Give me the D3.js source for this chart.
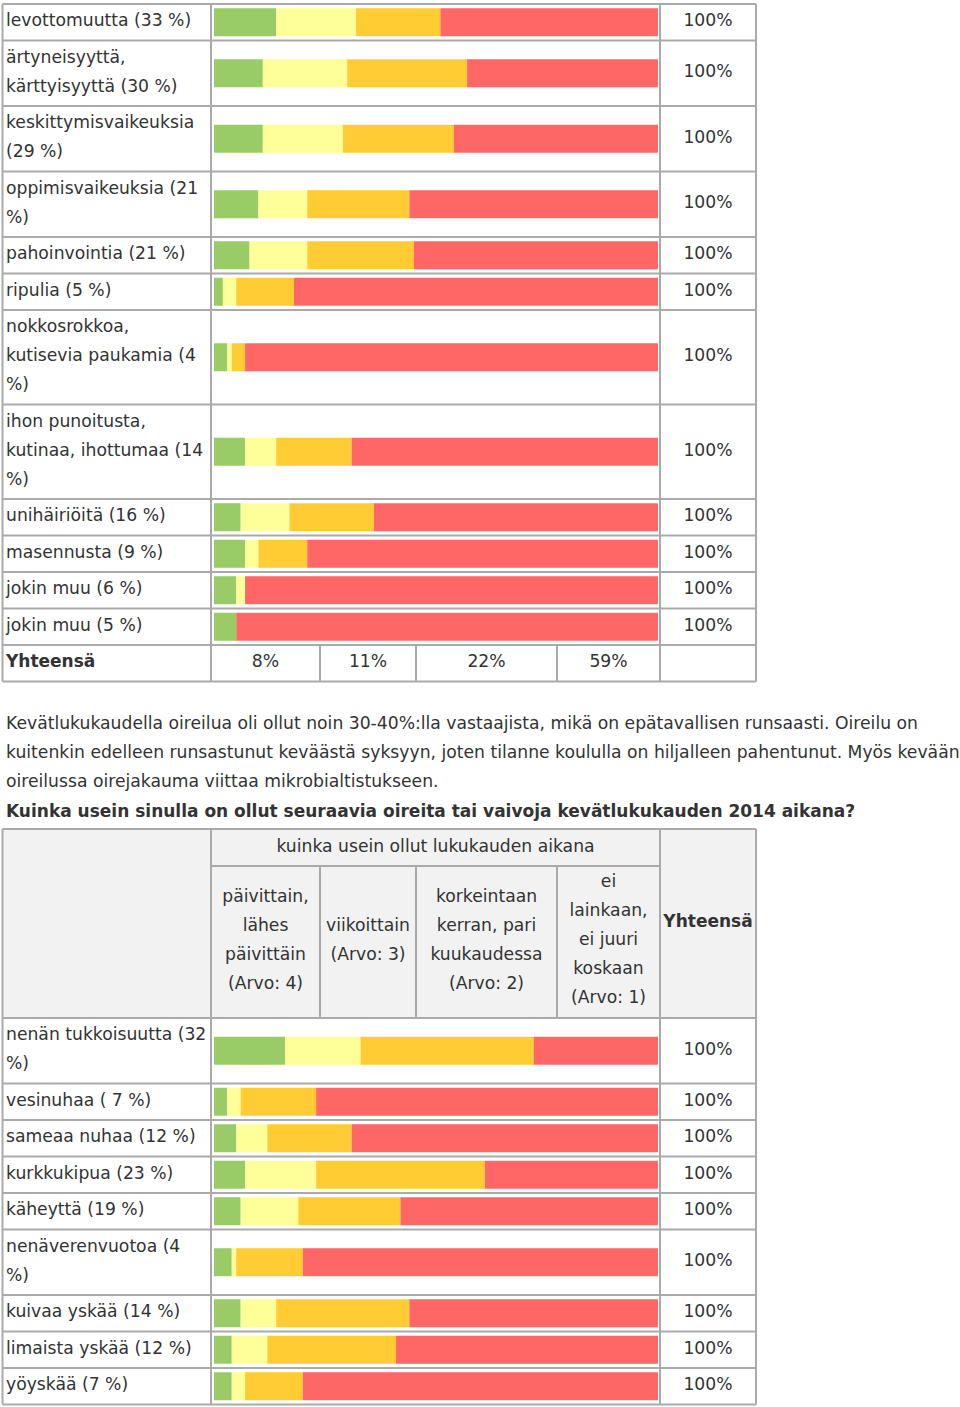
<!DOCTYPE html>
<html><head><meta charset="utf-8">
<script src="https://cdn.jsdelivr.net/npm/d3@7"></script>
<style>
html,body{margin:0;padding:0;background:#fff;}
svg{display:block;font-family:"DejaVu Sans",Verdana,sans-serif;}
</style></head>
<body>
<script>
// ---------- DATA ----------
const categoriesA = [
  "levottomuutta (33 %)",
  "ärtyneisyyttä,\nkärttyisyyttä (30 %)",
  "keskittymisvaikeuksia\n(29 %)",
  "oppimisvaikeuksia (21\n%)",
  "pahoinvointia (21 %)",
  "ripulia (5 %)",
  "nokkosrokkoa,\nkutisevia paukamia (4\n%)",
  "ihon punoitusta,\nkutinaa, ihottumaa (14\n%)",
  "unihäiriöitä (16 %)",
  "masennusta (9 %)",
  "jokin muu (6 %)",
  "jokin muu (5 %)"
];
const dailyA   = [14, 11, 11, 10,  8, 2, 3,  7,  6,  7, 5, 5];
const weeklyA  = [18, 19, 18, 11, 13, 3, 1,  7, 11,  3, 2, 0];
const monthlyA = [19, 27, 25, 23, 24, 13, 3, 17, 19, 11, 0, 0];
const neverA   = [49, 43, 46, 56, 55, 82, 93, 69, 64, 79, 93, 95];
const totalsA  = ["100%","100%","100%","100%","100%","100%","100%","100%","100%","100%","100%","100%"];
const summaryLabel = "Yhteensä";
const summaryA = ["8%", "11%", "22%", "59%"];

const paragraphLines = [
  "Kevätlukukaudella oireilua oli ollut noin 30-40%:lla vastaajista, mikä on epätavallisen runsaasti. Oireilu on",
  "kuitenkin edelleen runsastunut keväästä syksyyn, joten tilanne koululla on hiljalleen pahentunut. Myös kevään",
  "oireilussa oirejakauma viittaa mikrobialtistukseen."
];
const questionTitle = "Kuinka usein sinulla on ollut seuraavia oireita tai vaivoja kevätlukukauden 2014 aikana?";
const groupHeader = "kuinka usein ollut lukukauden aikana";
const answerHeaders = [
  "päivittain,\nlähes\npäivittäin\n(Arvo: 4)",
  "viikoittain\n(Arvo: 3)",
  "korkeintaan\nkerran, pari\nkuukaudessa\n(Arvo: 2)",
  "ei\nlainkaan,\nei juuri\nkoskaan\n(Arvo: 1)"
];
const totalHeader = "Yhteensä";

const categoriesB = [
  "nenän tukkoisuutta (32\n%)",
  "vesinuhaa ( 7 %)",
  "sameaa nuhaa (12 %)",
  "kurkkukipua (23 %)",
  "käheyttä (19 %)",
  "nenäverenvuotoa (4\n%)",
  "kuivaa yskää (14 %)",
  "limaista yskää (12 %)",
  "yöyskää (7 %)"
];
const dailyB   = [16, 3, 5,  7,  6, 4,  6,  4,  4];
const weeklyB  = [17, 3, 7, 16, 13, 1,  8,  8,  3];
const monthlyB = [39, 17, 19, 38, 23, 15, 30, 29, 13];
const neverB   = [28, 77, 69, 39, 58, 80, 56, 59, 80];
const totalsB  = ["100%","100%","100%","100%","100%","100%","100%","100%","100%"];

// ---------- LAYOUT ----------
const W = 960, H = 1407;
const colColors = ["#99cc66", "#ffff99", "#ffcc33", "#ff6666"];
const keys = ["daily", "weekly", "monthly", "never"];
const textColor = "#333";
const borderColor = "#aaa";
const fontSize = 17.2;
const boldSize = 17;
const lineH = 29;
const xL = 2.5, xBar = 211, xTot = 660, xR = 756;
const subCols = [211, 320, 416, 557, 660];
const barH = 28;

const x = d3.scaleLinear().domain([0, 100]).range([214, 658]);
const stack = d3.stack().keys(keys);

const svg = d3.select("body").append("svg").attr("width", W).attr("height", H);

function rowHeight(lines) { return 7.5 + lineH * lines; }

function hline(g, y, x1, x2) {
  g.append("line").attr("x1", x1).attr("x2", x2).attr("y1", y).attr("y2", y)
    .attr("stroke", borderColor).attr("stroke-width", 2);
}
function vline(g, xx, y1, y2) {
  g.append("line").attr("x1", xx).attr("x2", xx).attr("y1", y1).attr("y2", y2)
    .attr("stroke", borderColor).attr("stroke-width", 2);
}

function multiText(g, str, xx, top, anchor, weight) {
  const lines = str.split("\n");
  const t = g.append("text").attr("fill", textColor).attr("font-size", fontSize)
    .attr("text-anchor", anchor).attr("font-weight", weight || "normal");
  lines.forEach((ln, i) => {
    t.append("tspan").attr("x", xx).attr("y", top + 22 + lineH * i).text(ln);
  });
  return t;
}

function drawRows(g, top, cats, d1, d2, d3_, d4, totals) {
  const data = cats.map((c, i) => ({cat: c, daily: d1[i], weekly: d2[i], monthly: d3_[i], never: d4[i], total: totals[i]}));
  const series = stack(data);
  let y = top;
  const rows = data.map(d => {
    const n = d.cat.split("\n").length;
    const h = rowHeight(n);
    const r = {y0: y, h: h, n: n, d: d};
    y += h;
    return r;
  });
  series.forEach((s, k) => {
    g.append("g").selectAll("rect").data(s).join("rect")
      .attr("x", p => x(p[0]))
      .attr("width", p => Math.max(0, x(p[1]) - x(p[0])))
      .attr("y", (p, i) => rows[i].y0 + rows[i].h / 2 - barH / 2)
      .attr("height", barH)
      .attr("fill", colColors[k]);
  });
  rows.forEach(r => {
    multiText(g, r.d.cat, 6, r.y0, "start");
    g.append("text").attr("x", (xTot + xR) / 2).attr("y", r.y0 + r.h / 2 + 4)
      .attr("text-anchor", "middle").attr("font-size", fontSize).attr("fill", textColor)
      .text(r.d.total);
  });
  rows.forEach(r => hline(g, r.y0, xL, xR));
  hline(g, y, xL, xR);
  [xL, xBar, xTot, xR].forEach(xx => vline(g, xx, top, y));
  return y;
}

// ---------- TABLE A ----------
const gA = svg.append("g");
let yEnd = drawRows(gA, 4, categoriesA, dailyA, weeklyA, monthlyA, neverA, totalsA);
const sumTop = yEnd, sumH = rowHeight(1);
gA.append("text").attr("x", 6).attr("y", sumTop + sumH / 2 + 4).attr("font-size", boldSize)
  .attr("font-weight", "bold").attr("fill", textColor).text(summaryLabel);
summaryA.forEach((v, i) => {
  gA.append("text").attr("x", (subCols[i] + subCols[i + 1]) / 2).attr("y", sumTop + sumH / 2 + 4)
    .attr("text-anchor", "middle").attr("font-size", fontSize).attr("fill", textColor).text(v);
});
hline(gA, sumTop + sumH, xL, xR);
[xL, ...subCols, xR].forEach(xx => vline(gA, xx, sumTop, sumTop + sumH));

// ---------- PARAGRAPH ----------
paragraphLines.forEach((ln, i) => {
  svg.append("text").attr("x", 6).attr("y", 729 + lineH * i).attr("font-size", fontSize)
    .attr("fill", textColor).text(ln);
});
svg.append("text").attr("x", 6).attr("y", 817).attr("font-size", boldSize)
  .attr("font-weight", "bold").attr("fill", textColor).text(questionTitle);

// ---------- TABLE B HEADER ----------
const gB = svg.append("g");
const hTop = 829, hMid = 866, hBot = 1018;
gB.append("rect").attr("x", xL).attr("y", hTop).attr("width", xR - xL).attr("height", hBot - hTop).attr("fill", "#f2f2f2");
gB.append("text").attr("x", (xBar + xTot) / 2).attr("y", (hTop + hMid) / 2 + 4)
  .attr("text-anchor", "middle").attr("font-size", fontSize).attr("fill", textColor).text(groupHeader);
answerHeaders.forEach((hd, i) => {
  const n = hd.split("\n").length;
  const cx = (subCols[i] + subCols[i + 1]) / 2;
  const top = (hMid + hBot) / 2 - 3 - (n * lineH) / 2 - 16 + lineH / 2;
  multiText(gB, hd, cx, top, "middle");
});
gB.append("text").attr("x", (xTot + xR) / 2).attr("y", (hTop + hBot) / 2 - 3 + 6)
  .attr("text-anchor", "middle").attr("font-size", boldSize).attr("font-weight", "bold")
  .attr("fill", textColor).text(totalHeader);
hline(gB, hTop, xL, xR);
hline(gB, hMid, xBar, xTot);
[xL, xBar, xTot, xR].forEach(xx => vline(gB, xx, hTop, hBot));
subCols.slice(1, 4).forEach(xx => vline(gB, xx, hMid, hBot));

drawRows(gB, hBot, categoriesB, dailyB, weeklyB, monthlyB, neverB, totalsB);
</script>
</body></html>
